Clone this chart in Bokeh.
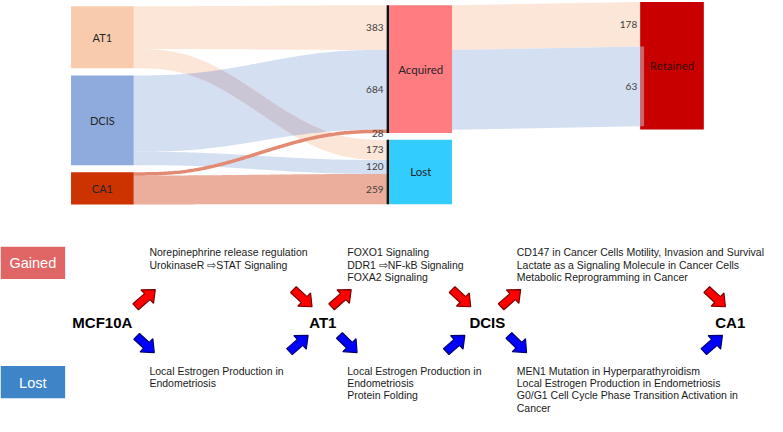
import numpy as np
from bokeh.plotting import figure
from bokeh.models import Range1d
from bokeh.embed import file_html
from bokeh.resources import INLINE
from bokeh.core.properties import value

# ---------------- data ----------------
stages = ["AT1", "DCIS", "CA1"]
acquired = [383, 684, 28]
lost = [173, 120, 259]
retained = [178, 63]            # retained from AT1, DCIS acquired pathways
outcomes = ["Acquired", "Lost", "Retained"]

progression = ["MCF10A", "AT1", "DCIS", "CA1"]
group_labels = ["Gained", "Lost"]
gained_pathways = [
    ["Norepinephrine release regulation", "UrokinaseR \u21e8STAT Signaling"],
    ["FOXO1 Signaling", "DDR1 \u21e8NF-kB Signaling", "FOXA2 Signaling"],
    ["CD147 in Cancer Cells Motility, Invasion and Survival",
     "Lactate as a Signaling Molecule in Cancer Cells",
     "Metabolic Reprogramming in Cancer"],
]
lost_pathways = [
    ["Local Estrogen Production in", "Endometriosis"],
    ["Local Estrogen Production in", "Endometriosis", "Protein Folding"],
    ["MEN1 Mutation in Hyperparathyroidism",
     "Local Estrogen Production in Endometriosis",
     "G0/G1 Cell Cycle Phase Transition Activation in",
     "Cancer"],
]

# ---------------- style / layout ----------------
node_colors = ["#F8CBAD", "#8FAADC", "#CC3300"]
flow_colors = ["#FBE5D6", "#D2DDF0", "#EAAA98"]
ca1_acq_color = "#E38B72"
overlap_color = "#CBC6D6"
acq_color, lost_color, ret_color = "#FF7C80", "#33CCFF", "#C80000"
SANKEY_FONT = value("Lato")
BODY_FONT = value("Liberation Sans")

k_left, k_mid = 0.117, 0.1222
left_top, left_gap = 6.0, 7.5
xl0, xl1 = 72, 136
xbar, xm0, xm1 = 395.5, 397, 461
acq_top, lost_top = 5.0, 146.0
xr0, xr1, ret_top = 653, 718, 1.5

p = figure(width=767, height=416, x_range=Range1d(0, 783), y_range=Range1d(436, 0),
           output_backend="svg", toolbar_location=None, min_border=0)
p.axis.visible = False
p.grid.visible = False
p.outline_line_color = None


def smooth(t):
    return 6 * t**5 - 15 * t**4 + 10 * t**3


def edges(x0, x1, top0, bot0, top1, bot1, n=120):
    x = np.linspace(x0, x1, n)
    s = smooth((x - x0) / (x1 - x0))
    return x, top0 + (top1 - top0) * s, bot0 + (bot1 - bot0) * s


def poly(x, top, bot):
    return list(np.concatenate([x, x[::-1]])), list(np.concatenate([top, bot[::-1]]))


# ---- node geometry from data ----
left_nodes = []
y = left_top
for a, l in zip(acquired, lost):
    h = (a + l) * k_left
    left_nodes.append((y, y + h))
    y += h + left_gap
acq_bottom = acq_top + sum(acquired) * k_mid
lost_bottom = lost_top + sum(lost) * k_mid

src_acq, src_lost = [], []
for (t, b), a, l in zip(left_nodes, acquired, lost):
    src_acq.append((t, t + a * k_left))
    src_lost.append((t + a * k_left, b))
tgt_acq, tgt_lost = [], []
ya, yl = acq_top, lost_top
for a, l in zip(acquired, lost):
    tgt_acq.append((ya, ya + a * k_mid)); ya += a * k_mid
    tgt_lost.append((yl, yl + l * k_mid)); yl += l * k_mid

ribbons = {}
for i in range(3):
    ribbons[("acq", i)] = edges(xl1, xbar, src_acq[i][0], src_acq[i][1], tgt_acq[i][0], tgt_acq[i][1])
    ribbons[("lost", i)] = edges(xl1, xbar, src_lost[i][0], src_lost[i][1], tgt_lost[i][0], tgt_lost[i][1])

for key in [("acq", 1), ("lost", 1), ("lost", 2), ("acq", 0), ("lost", 0)]:
    x, t, b = ribbons[key]
    xs, ys = poly(x, t, b)
    p.patch(xs, ys, fill_color=flow_colors[key[1]], line_color=None, fill_alpha=0.95)

# overlap of AT1->Lost with DCIS->Acquired (darker tone)
x, t1, b1 = ribbons[("lost", 0)]
_, t2, b2 = ribbons[("acq", 1)]
ot, ob = np.maximum(t1, t2), np.minimum(b1, b2)
m = ot < ob
if m.any():
    xs, ys = poly(x[m], ot[m], ob[m])
    p.patch(xs, ys, fill_color=overlap_color, line_color=None)

# CA1 -> Acquired thin line
x, t, b = ribbons[("acq", 2)]
p.line(x, (t + b) / 2, line_color=ca1_acq_color, line_width=3.5)

# Acquired -> Retained bands (AT1, DCIS)
shift = ret_top - acq_top
for i in range(2):
    t0, b0 = tgt_acq[i]
    p.patch([xm1, xr0, xr0, xm1], [t0, t0 + shift, b0 + shift, b0],
            fill_color=flow_colors[i], line_color=None, fill_alpha=0.95)

# nodes
p.quad(left=[xl0] * 3, right=[xl1] * 3, top=[n[0] for n in left_nodes],
       bottom=[n[1] for n in left_nodes], fill_color=node_colors, line_color=None)
p.quad(left=[xm0, xm0], right=[xm1, xm1], top=[acq_top, lost_top],
       bottom=[acq_bottom, lost_bottom], fill_color=[acq_color, lost_color], line_color=None)
p.quad(left=[xbar - 1.3] * 2, right=[xbar + 1.3] * 2, top=[acq_top, lost_top],
       bottom=[acq_bottom, lost_bottom], fill_color="#111111", line_color=None)
ret_bottom = ret_top + sum(acquired) * k_mid
p.quad(left=[xr0], right=[xr1], top=[ret_top], bottom=[ret_bottom],
       fill_color=ret_color, line_color=None)
# DCIS band tip showing over the Retained node
p.quad(left=[xr0], right=[xr0 + 4], top=[tgt_acq[1][0] + shift], bottom=[tgt_acq[1][1] + shift],
       fill_color=flow_colors[1], fill_alpha=0.45, line_color=None)

# node labels
p.text(x=[(xl0 + xl1) / 2] * 3, y=[(n[0] + n[1]) / 2 for n in left_nodes], text=stages,
       text_font=SANKEY_FONT, text_font_size="11px", text_align="center",
       text_baseline="middle", text_color="#262626")
p.text(x=[(xm0 + xm1) / 2] * 2 + [(xr0 + xr1) / 2],
       y=[(acq_top + acq_bottom) / 2, (lost_top + lost_bottom) / 2, (ret_top + ret_bottom) / 2],
       text=outcomes, text_font=SANKEY_FONT, text_font_size="11.5px", text_align="center",
       text_baseline="middle", text_color=["#262626", "#262626", "#3A0A0A"])

# flow value labels
val_y = [(s[0] + s[1]) / 2 for s in tgt_acq] + [(s[0] + s[1]) / 2 for s in tgt_lost]
val_y[2] = tgt_acq[2][1] + 0.5
p.text(x=[391] * 6, y=val_y, text=[str(v) for v in acquired + lost],
       text_font=SANKEY_FONT, text_font_size="10px", text_align="right",
       text_baseline="middle", text_color="#404040")
p.text(x=[650] * 2, y=[(tgt_acq[i][0] + tgt_acq[i][1]) / 2 + shift for i in range(2)],
       text=[str(v) for v in retained], text_font=SANKEY_FONT, text_font_size="10px",
       text_align="right", text_baseline="middle", text_color="#404040")

# ---------------- lower panel ----------------
p.quad(left=[0, 0], right=[66, 66], top=[258, 383], bottom=[292, 417],
       fill_color=["#E06666", "#3D85C6"], line_color=None)
p.text(x=[33, 33], y=[275.5, 400.5], text=group_labels, text_font=BODY_FONT,
       text_font_size="14.5px", text_align="center", text_baseline="middle", text_color="white")

stage_x = [104, 329, 497, 745]
stage_y = 338
p.text(x=stage_x, y=[stage_y] * 4, text=progression, text_font=BODY_FONT,
       text_font_style="bold", text_font_size="15px", text_align="center",
       text_baseline="middle", text_color="#000000")

block_x = [152, 354, 527]
line_h = 12.9
gx, gy, gt, lx, ly, lt = [], [], [], [], [], []
for bx, g, l in zip(block_x, gained_pathways, lost_pathways):
    for j, s in enumerate(g):
        gx.append(bx); gy.append(264 + j * line_h); gt.append(s)
    for j, s in enumerate(l):
        lx.append(bx); ly.append(388 + j * line_h); lt.append(s)
p.text(x=gx + lx, y=gy + ly, text=gt + lt, text_font=BODY_FONT, text_font_size="10.5px",
       text_align="left", text_baseline="middle", text_color="#1A1A1A")

# block arrows (tail, tip) around stage labels
red_arrows = [((138, 321), (158, 303)), ((299, 303), (318, 321)), ((338, 321), (358, 303)),
              ((461, 303), (480, 321)), ((511, 321), (531, 303)), ((721, 303), (740, 321))]
blue_arrows = [((139, 352), (157, 369)), ((295, 368), (314, 351)), ((346, 351), (364, 369)),
               ((455, 368), (474, 351)), ((519, 351), (537, 369)), ((718, 368), (737, 351))]


def block_arrow(tail, tip, sw=4.2, hw=9.5, hl=11):
    t, h = np.array(tail, float), np.array(tip, float)
    d = h - t
    L = np.hypot(*d)
    u = d / L
    n = np.array([-u[1], u[0]])
    b = t + u * (L - hl)
    pts = [t + n * sw, b + n * sw, b + n * hw, h, b - n * hw, b - n * sw, t - n * sw]
    return [q[0] for q in pts], [q[1] for q in pts]


for arrows, fc, lc in [(red_arrows, "#FF0000", "#7A0000"), (blue_arrows, "#0000FF", "#00006A")]:
    xs, ys = zip(*[block_arrow(a, b) for a, b in arrows])
    p.patches(list(xs), list(ys), fill_color=fc, line_color=lc, line_width=1.2)

open("out.html", "w").write(file_html(p, INLINE))
